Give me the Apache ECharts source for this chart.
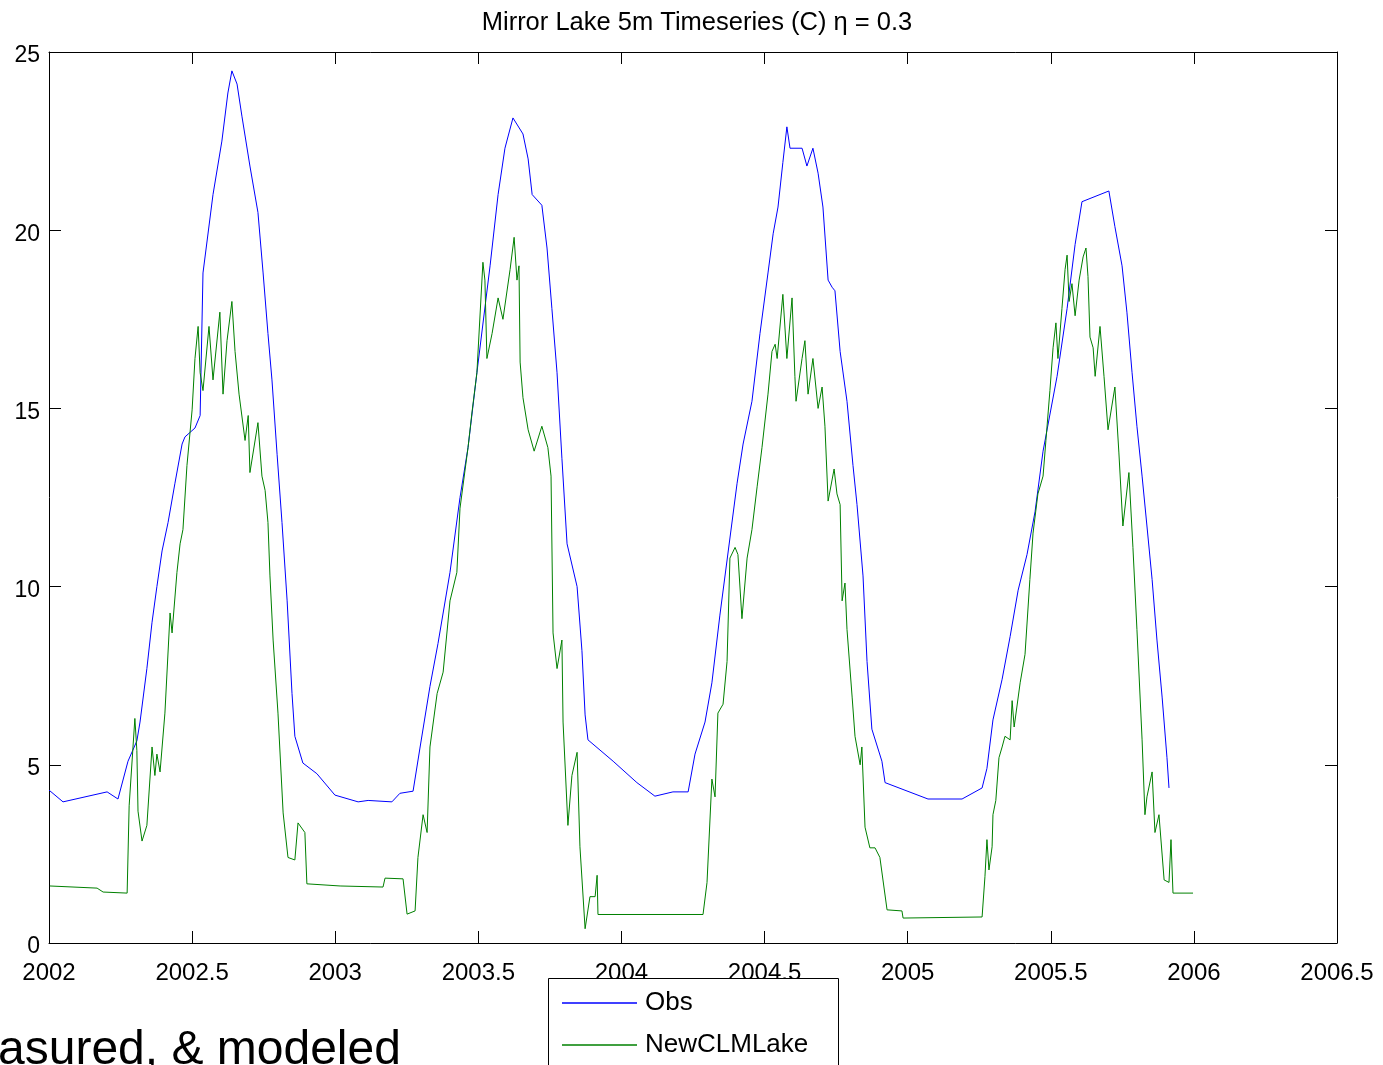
<!DOCTYPE html>
<html>
<head>
<meta charset="utf-8">
<script src="https://cdn.jsdelivr.net/npm/echarts@6/dist/echarts.min.js"></script>
<style>
html,body{margin:0;padding:0;background:#fff;}
#chart{width:1383px;height:1065px;}
</style>
</head>
<body>
<div id="chart"></div>
<script>
var titleText = 'Mirror Lake 5m Timeseries (C) \u03b7 = 0.3';
var seriesNames = ['Obs', 'NewCLMLake'];
var xTicks = [2002, 2002.5, 2003, 2003.5, 2004, 2004.5, 2005, 2005.5, 2006, 2006.5];
var yTicks = [0, 5, 10, 15, 20, 25];
var footText = 'asured, & modeled';

var obsYear = [2002.000,2002.049,2002.203,2002.241,2002.276,2002.307,2002.318,2002.342,2002.360,2002.377,2002.395,2002.416,2002.440,2002.465,2002.475,2002.510,2002.528,2002.538,2002.573,2002.604,2002.625,2002.639,2002.657,2002.674,2002.702,2002.730,2002.748,2002.765,2002.779,2002.797,2002.814,2002.832,2002.849,2002.859,2002.887,2002.936,2002.999,2003.080,2003.115,2003.198,2003.226,2003.272,2003.296,2003.331,2003.359,2003.401,2003.436,2003.464,2003.495,2003.541,2003.569,2003.593,2003.621,2003.656,2003.674,2003.688,2003.722,2003.740,2003.757,2003.775,2003.792,2003.810,2003.845,2003.862,2003.873,2003.883,2003.971,2004.054,2004.117,2004.180,2004.233,2004.257,2004.292,2004.316,2004.344,2004.404,2004.425,2004.456,2004.484,2004.512,2004.530,2004.547,2004.564,2004.578,2004.589,2004.631,2004.648,2004.669,2004.687,2004.704,2004.722,2004.736,2004.746,2004.764,2004.788,2004.809,2004.823,2004.844,2004.858,2004.875,2004.910,2004.921,2005.071,2005.190,2005.260,2005.277,2005.298,2005.330,2005.358,2005.386,2005.417,2005.445,2005.473,2005.522,2005.557,2005.585,2005.609,2005.703,2005.724,2005.749,2005.766,2005.784,2005.801,2005.819,2005.836,2005.854,2005.871,2005.889,2005.906,2005.913];
var obsTemp = [4.29,3.96,4.24,4.04,5.1,5.67,6.2,7.7,9.0,10.0,11.0,11.8,12.9,14.0,14.2,14.45,14.8,18.8,21.0,22.5,23.85,24.47,24.1,23.2,21.8,20.5,18.8,17.1,15.8,13.7,11.8,9.6,7.0,5.8,5.05,4.75,4.15,3.96,4.0,3.96,4.2,4.26,5.47,7.2,8.4,10.4,12.5,13.9,16.0,19.0,21.0,22.3,23.15,22.7,22.0,21.0,20.7,19.5,17.8,16.0,13.6,11.2,10.0,8.2,6.4,5.7,5.1,4.5,4.12,4.24,4.24,5.3,6.2,7.3,9.2,12.9,14.0,15.2,17.1,18.8,19.9,20.65,21.9,22.9,22.3,22.3,21.8,22.3,21.6,20.65,18.6,18.4,18.3,16.6,15.2,13.4,12.3,10.3,7.9,6.0,5.1,4.5,4.04,4.04,4.35,4.9,6.26,7.4,8.6,9.9,10.9,12.1,13.8,15.9,17.8,19.6,20.8,21.1,20.1,19.0,17.7,16.0,14.5,13.1,11.7,10.2,8.5,6.9,5.2,4.35];

var modYear = [2002.003,2002.168,2002.189,2002.273,2002.280,2002.300,2002.307,2002.311,2002.325,2002.342,2002.360,2002.370,2002.377,2002.388,2002.405,2002.423,2002.430,2002.447,2002.458,2002.468,2002.482,2002.500,2002.510,2002.521,2002.528,2002.538,2002.559,2002.573,2002.597,2002.608,2002.622,2002.639,2002.650,2002.664,2002.685,2002.696,2002.702,2002.730,2002.744,2002.755,2002.765,2002.772,2002.783,2002.800,2002.818,2002.835,2002.859,2002.870,2002.894,2002.901,2003.017,2003.167,2003.174,2003.237,2003.251,2003.279,2003.289,2003.307,2003.321,2003.331,2003.356,2003.377,2003.401,2003.425,2003.436,2003.464,2003.478,2003.495,2003.516,2003.523,2003.530,2003.548,2003.569,2003.586,2003.611,2003.625,2003.635,2003.642,2003.646,2003.656,2003.674,2003.695,2003.722,2003.743,2003.754,2003.761,2003.775,2003.792,2003.796,2003.813,2003.827,2003.845,2003.855,2003.873,2003.890,2003.908,2003.915,2003.918,2004.285,2004.299,2004.316,2004.327,2004.337,2004.355,2004.369,2004.379,2004.397,2004.407,2004.421,2004.439,2004.456,2004.474,2004.491,2004.512,2004.526,2004.537,2004.544,2004.564,2004.578,2004.596,2004.606,2004.610,2004.631,2004.641,2004.652,2004.669,2004.687,2004.701,2004.711,2004.722,2004.743,2004.753,2004.764,2004.771,2004.781,2004.788,2004.806,2004.816,2004.834,2004.840,2004.851,2004.868,2004.886,2004.903,2004.928,2004.980,2004.984,2005.260,2005.270,2005.277,2005.284,2005.295,2005.298,2005.308,2005.319,2005.330,2005.340,2005.358,2005.365,2005.372,2005.393,2005.410,2005.427,2005.438,2005.455,2005.473,2005.483,2005.497,2005.508,2005.518,2005.525,2005.539,2005.550,2005.557,2005.564,2005.574,2005.585,2005.599,2005.613,2005.623,2005.630,2005.637,2005.648,2005.655,2005.672,2005.686,2005.700,2005.724,2005.738,2005.752,2005.773,2005.787,2005.801,2005.819,2005.829,2005.836,2005.854,2005.864,2005.878,2005.896,2005.913,2005.920,2005.927,2005.997];
var modTemp = [1.6,1.54,1.43,1.4,3.85,6.3,5.4,3.7,2.86,3.3,5.5,4.7,5.3,4.8,6.45,9.26,8.7,10.4,11.2,11.6,13.4,14.96,16.4,17.3,16.0,15.5,17.3,15.8,17.7,15.4,16.9,18.0,16.6,15.4,14.1,14.8,13.2,14.6,13.1,12.7,11.8,10.3,8.5,6.45,3.65,2.4,2.33,3.37,3.1,1.66,1.6,1.57,1.82,1.8,0.81,0.9,2.4,3.6,3.1,5.5,7.0,7.6,9.6,10.4,12.2,13.9,14.9,16.0,19.1,18.6,16.4,17.1,18.1,17.5,18.9,19.8,18.6,19.0,16.3,15.3,14.4,13.8,14.5,13.9,13.1,8.7,7.7,8.5,6.2,3.3,4.7,5.35,2.7,0.4,1.3,1.3,1.9,0.8,0.8,1.7,4.6,4.1,6.45,6.7,7.9,10.8,11.1,10.9,9.1,10.8,11.6,12.8,13.9,15.4,16.6,16.8,16.4,18.2,16.4,18.1,15.9,15.2,16.4,16.9,15.4,16.4,15.0,15.6,14.5,12.4,13.3,12.6,12.3,9.6,10.1,8.8,6.9,5.8,5.0,5.5,3.25,2.67,2.67,2.4,0.93,0.9,0.7,0.73,1.86,2.9,2.05,2.7,3.6,4.0,5.2,5.5,5.8,5.7,6.8,6.06,7.3,8.1,10.2,11.5,12.6,13.1,14.1,15.5,16.7,17.4,16.4,17.8,18.9,19.3,18.0,18.5,17.6,18.6,19.25,19.5,18.7,17.0,16.7,15.9,17.3,15.9,14.4,15.6,13.75,11.7,13.2,11.1,8.8,5.7,3.6,4.1,4.8,3.1,3.6,1.77,1.7,2.9,1.4,1.4];

function zip(a, b) { var out = []; for (var i = 0; i < a.length; i++) out.push([a[i], b[i]]); return out; }

var FONT = 'Liberation Sans';
var chart = echarts.init(document.getElementById('chart'), null, {renderer: 'canvas'});

var axisCommon = {
  axisLine: {show: true, onZero: false, lineStyle: {color: '#000', width: 1}},
  axisTick: {show: true, inside: true, length: 12, lineStyle: {color: '#000', width: 1}},
  splitLine: {show: false}
};

chart.setOption({
  animation: false,
  backgroundColor: '#fff',
  title: {
    text: titleText, left: 692, textAlign: 'center', top: 5,
    textStyle: {fontFamily: FONT, fontSize: 25.5, fontWeight: 'normal', color: '#000'}
  },
  grid: {left: 49, right: 46, top: 52, bottom: 122, containLabel: false},
  xAxis: [
    Object.assign({type: 'value', position: 'bottom', min: xTicks[0], max: xTicks[xTicks.length - 1], interval: 0.5,
      axisLabel: {show: true, margin: 18, fontFamily: FONT, fontSize: 24, color: '#000',
        showMinLabel: true, showMaxLabel: true, formatter: function (v) { return String(v); }}}, axisCommon),
    Object.assign({type: 'value', position: 'top', min: xTicks[0], max: xTicks[xTicks.length - 1], interval: 0.5,
      axisLabel: {show: false}}, axisCommon)
  ],
  yAxis: [
    Object.assign({type: 'value', position: 'left', min: yTicks[0], max: yTicks[yTicks.length - 1], interval: 5,
      axisLabel: {show: true, margin: 9, fontFamily: FONT, fontSize: 23, color: '#000',
        verticalAlign: 'top', lineHeight: 8}}, axisCommon),
    Object.assign({type: 'value', position: 'right', min: yTicks[0], max: yTicks[yTicks.length - 1], interval: 5,
      axisLabel: {show: false}}, axisCommon)
  ],
  legend: {
    orient: 'vertical', left: 562, top: 983, z: 20,
    padding: 0, itemWidth: 75, itemHeight: 1.5, itemGap: 2, icon: 'rect',
    textStyle: {fontFamily: FONT, fontSize: 26, color: '#000', lineHeight: 30, padding: [10, 0, 0, 3]},
    data: seriesNames
  },
  series: [
    {name: seriesNames[0], type: 'line', data: zip(obsYear, obsTemp), showSymbol: false, symbol: 'none',
      lineStyle: {color: '#0000ff', width: 1}, itemStyle: {color: '#0000ff'}},
    {name: seriesNames[1], type: 'line', data: zip(modYear, modTemp), showSymbol: false, symbol: 'none',
      lineStyle: {color: '#008000', width: 1}, itemStyle: {color: '#008000'}}
  ],
  graphic: [
    {type: 'rect', z: 15, shape: {x: 548.5, y: 978.5, width: 290, height: 120},
      style: {fill: '#fff', stroke: '#000', lineWidth: 1}},
    {type: 'text', left: -2, top: 1027, z: 30,
      style: {text: footText, fontFamily: FONT, fontSize: 48, fill: '#000'}}
  ]
});
</script>
</body>
</html>
